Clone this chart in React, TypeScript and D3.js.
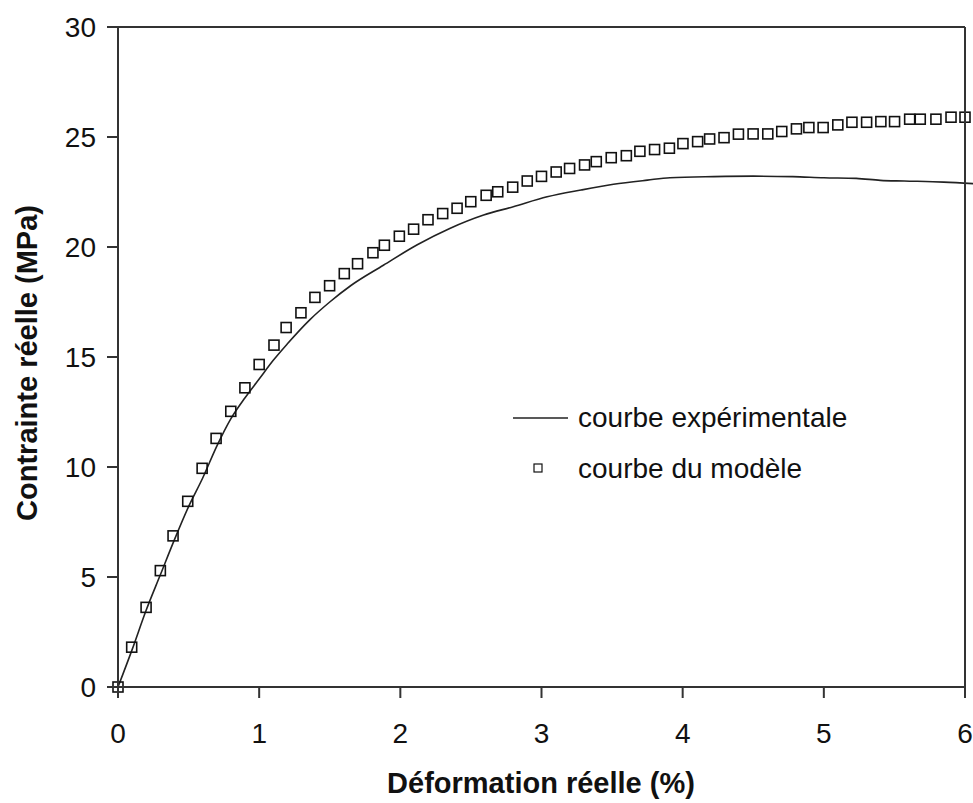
import React from "react";
import * as d3 from "d3";

// Experimental curve (strain %, stress MPa)
const expStrain = [0, 0.1, 0.2, 0.3, 0.4, 0.5, 0.6, 0.7, 0.8, 0.9, 1.0, 1.1, 1.2, 1.36, 1.5, 1.65, 1.88, 2.12, 2.35, 2.59, 2.8, 3.04, 3.28, 3.51, 3.75, 3.91, 4.22, 4.5, 4.78, 5.0, 5.23, 5.4, 5.57, 5.85, 6.06];
const expStress = [0, 1.7, 3.5, 5.1, 6.7, 8.2, 9.5, 10.95, 12.2, 13.15, 14.0, 14.85, 15.6, 16.7, 17.5, 18.25, 19.17, 20.1, 20.84, 21.45, 21.83, 22.28, 22.59, 22.85, 23.04, 23.15, 23.2, 23.22, 23.2, 23.15, 23.12, 23.03, 23.0, 22.95, 22.88];

// Model curve points
const modelStrain = [0, 0.097, 0.199, 0.3, 0.39, 0.494, 0.596, 0.695, 0.799, 0.899, 1.0, 1.105, 1.191, 1.296, 1.395, 1.499, 1.603, 1.697, 1.806, 1.887, 1.993, 2.094, 2.196, 2.3, 2.402, 2.499, 2.608, 2.69, 2.796, 2.899, 3.0, 3.104, 3.199, 3.305, 3.388, 3.494, 3.601, 3.697, 3.801, 3.906, 4.002, 4.106, 4.191, 4.293, 4.395, 4.499, 4.603, 4.702, 4.806, 4.894, 4.995, 5.099, 5.199, 5.303, 5.404, 5.501, 5.608, 5.683, 5.794, 5.901, 6.0];
const modelStress = [0, 1.81, 3.62, 5.29, 6.87, 8.44, 9.94, 11.3, 12.53, 13.6, 14.66, 15.54, 16.34, 17.01, 17.71, 18.24, 18.79, 19.24, 19.74, 20.08, 20.49, 20.81, 21.24, 21.52, 21.76, 22.06, 22.35, 22.51, 22.72, 23.0, 23.21, 23.41, 23.57, 23.73, 23.88, 24.06, 24.15, 24.35, 24.43, 24.49, 24.7, 24.79, 24.91, 24.97, 25.13, 25.14, 25.14, 25.25, 25.37, 25.43, 25.43, 25.55, 25.67, 25.67, 25.7, 25.7, 25.81, 25.81, 25.81, 25.9, 25.9];

const xTicks = [0, 1, 2, 3, 4, 5, 6];
const yTicks = [0, 5, 10, 15, 20, 25, 30];

const xTitle = "Déformation réelle (%)";
const yTitle = "Contrainte réelle (MPa)";
const legendLabels = ["courbe expérimentale", "courbe du modèle"];

const W = 973;
const H = 803;
const FONT = "'Liberation Sans', Arial, sans-serif";
const AXIS = "#333";

export default function App() {
  const x = d3.scaleLinear().domain([0, 6]).range([118, 965]);
  const y = d3.scaleLinear().domain([0, 30]).range([687, 27]);
  const line = d3
    .line<number>()
    .x((_, i) => x(expStrain[i]))
    .y((d) => y(d))
    .curve(d3.curveMonotoneX);
  const expPath = line(expStress) || "";
  const tickLen = 11;
  const sq = 10;

  return (
    <svg
      width={W}
      height={H}
      style={{ position: "absolute", left: 0, top: 0, background: "#fff" }}
      fontFamily={FONT}
    >
      <rect x={0} y={0} width={W} height={H} fill="#fff" />
      {/* experimental curve */}
      <path d={expPath} fill="none" stroke="#222" strokeWidth={1.6} />
      {/* model squares */}
      {modelStress.map((v, i) => (
        <rect
          key={i}
          x={x(modelStrain[i]) - sq / 2}
          y={y(v) - sq / 2}
          width={sq}
          height={sq}
          fill="none"
          stroke="#111"
          strokeWidth={1.6}
        />
      ))}
      {/* frame */}
      <line x1={x(0)} x2={x(6)} y1={y(0)} y2={y(0)} stroke={AXIS} strokeWidth={2} />
      <line x1={x(0) - tickLen} x2={x(6)} y1={y(30)} y2={y(30)} stroke={AXIS} strokeWidth={2} />
      <line x1={x(0)} x2={x(0)} y1={y(30)} y2={y(0) + tickLen} stroke={AXIS} strokeWidth={2} />
      <line x1={x(6)} x2={x(6)} y1={y(30)} y2={y(0) + tickLen} stroke={AXIS} strokeWidth={2} />
      {/* x ticks */}
      {xTicks.map((t) => (
        <g key={"x" + t}>
          <line x1={x(t)} x2={x(t)} y1={y(0)} y2={y(0) + tickLen} stroke={AXIS} strokeWidth={2} />
          <text x={x(t)} y={743} textAnchor="middle" fontSize={28} fill="#111">
            {t}
          </text>
        </g>
      ))}
      {/* y ticks */}
      {yTicks.map((t) => (
        <g key={"y" + t}>
          <line x1={x(0) - tickLen} x2={x(0)} y1={y(t)} y2={y(t)} stroke={AXIS} strokeWidth={2} />
          <text x={96} y={y(t) + 10} textAnchor="end" fontSize={28} fill="#111">
            {t}
          </text>
        </g>
      ))}
      {/* axis titles */}
      <text x={541} y={793} textAnchor="middle" fontSize={29} fontWeight="bold" fill="#111">
        {xTitle}
      </text>
      <text
        transform={`translate(37, 363) rotate(-90)`}
        textAnchor="middle"
        fontSize={29}
        fontWeight="bold"
        fill="#111"
      >
        {yTitle}
      </text>
      {/* legend */}
      <line x1={513} x2={568} y1={418} y2={418} stroke="#222" strokeWidth={1.6} />
      <text x={578} y={427} fontSize={28} fill="#111">
        {legendLabels[0]}
      </text>
      <rect x={534} y={464} width={8} height={8} fill="none" stroke="#111" strokeWidth={1.2} />
      <text x={578} y={478} fontSize={28} fill="#111">
        {legendLabels[1]}
      </text>
    </svg>
  );
}
